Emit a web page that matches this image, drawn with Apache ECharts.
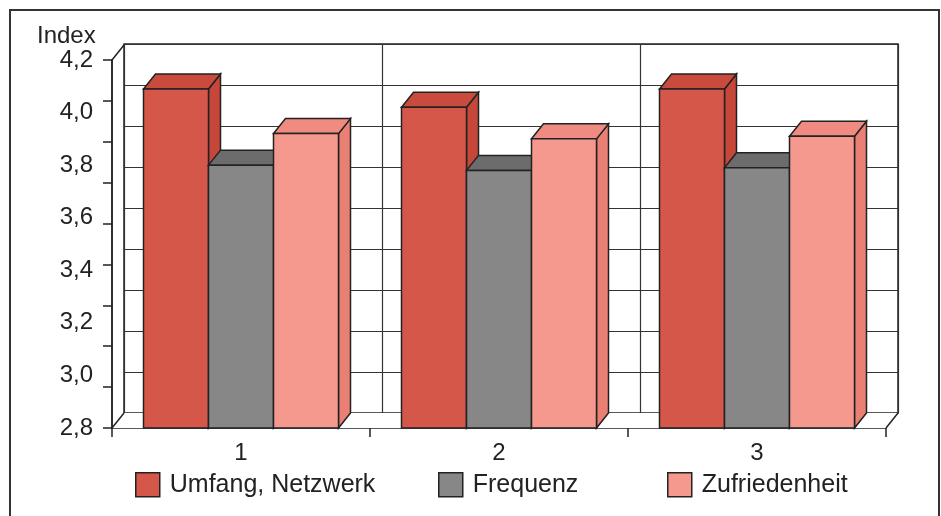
<!DOCTYPE html>
<html>
<head>
<meta charset="utf-8">
<script src="https://cdn.jsdelivr.net/npm/echarts@6/dist/echarts.min.js"></script>
<style>
  html, body { margin: 0; padding: 0; background: #fff; }
  #chart { width: 941px; height: 516px; }
</style>
</head>
<body>
<div id="chart"></div>
<script>
// categories and series values
var categories = ['1', '2', '3'];
var umfangNetzwerk = [4.09, 4.02, 4.09];
var frequenz = [3.80, 3.78, 3.79];
var zufriedenheit = [3.92, 3.90, 3.91];
var seriesNames = ['Umfang, Netzwerk', 'Frequenz', 'Zufriedenheit'];
var yMin = 2.8, yMax = 4.2, yStep = 0.2;

// colours: front / top / side
var palette = [
  { front: '#d5574a', top: '#c84b3d', side: '#c6473a' },
  { front: '#878787', top: '#6c6c6c', side: '#767676' },
  { front: '#f5988e', top: '#f08b81', side: '#ea7f74' }
];
var edge = '#222';
var depthX = 12, depthY = -15;   // 3d depth offset
var barW = 65;

var chart = echarts.init(document.getElementById('chart'));
var font = 'Liberation Sans, Arial, sans-serif';

// one 3d bar
function bar3d(si) {
  return function (params, api) {
    var idx = api.value(0);
    var top = api.coord([idx, api.value(1)]);
    var base = api.coord([idx, yMin]);
    var x0 = top[0] - barW * 1.5 + si * barW;
    var yt = top[1], yb = base[1];
    var c = palette[si];
    var st = { stroke: edge, lineWidth: 1.5 };
    return {
      type: 'group',
      children: [
        { type: 'polygon', shape: { points: [[x0 + barW, yt], [x0 + barW + depthX, yt + depthY], [x0 + barW + depthX, yb + depthY], [x0 + barW, yb]] },
          style: Object.assign({ fill: c.side }, st) },
        { type: 'polygon', shape: { points: [[x0, yt], [x0 + barW, yt], [x0 + barW + depthX, yt + depthY], [x0 + depthX, yt + depthY]] },
          style: Object.assign({ fill: c.top }, st) },
        { type: 'rect', shape: { x: x0, y: yt, width: barW, height: yb - yt },
          style: Object.assign({ fill: c.front }, st) }
      ]
    };
  };
}

// floor / side wall edges
function frame(params, api) {
  var cs = params.coordSys;
  var l = cs.x, r = cs.x + cs.width, t = cs.y, b = cs.y + cs.height;
  var st = { stroke: edge, lineWidth: 1.5 };
  return {
    type: 'group',
    children: [
      { type: 'polygon', shape: { points: [[l, b], [r, b], [r + depthX, b + depthY], [l + depthX, b + depthY]] }, style: { fill: '#fff' } },
      { type: 'line', shape: { x1: l, y1: t, x2: l + depthX, y2: t + depthY }, style: st },
      { type: 'line', shape: { x1: l, y1: b, x2: l + depthX, y2: b + depthY }, style: st },
      { type: 'line', shape: { x1: r, y1: b, x2: r + depthX, y2: b + depthY }, style: st }
    ]
  };
}

function toData(arr) {
  return arr.map(function (v, i) { return [i, v]; });
}

var values = [umfangNetzwerk, frequenz, zufriedenheit];
var series = [{
  type: 'custom',
  name: 'frame',
  xAxisIndex: 0,
  yAxisIndex: 0,
  renderItem: frame,
  data: [[0, yMin]],
  silent: true,
  z: 1
}];
values.forEach(function (arr, si) {
  series.push({
    type: 'custom',
    name: seriesNames[si],
    xAxisIndex: 0,
    yAxisIndex: 0,
    renderItem: bar3d(si),
    itemStyle: { color: palette[si].front },
    data: toData(arr),
    z: 3
  });
});

var legendLeft = [130, 433, 662];
var legends = seriesNames.map(function (n, i) {
  return {
    left: legendLeft[i],
    top: 467,
    itemWidth: 24,
    itemHeight: 24,
    icon: 'rect',
    selectedMode: false,
    data: [{ name: n, itemStyle: { color: palette[i].front, borderColor: edge, borderWidth: 1.5 } }],
    textStyle: { fontFamily: font, fontSize: 25, color: '#222', padding: [0, 0, 0, 5] }
  };
});

var option = {
  backgroundColor: '#fff',
  animation: false,
  title: {
    text: 'Index',
    left: 32,
    top: 19,
    textStyle: { fontFamily: font, fontSize: 24, fontWeight: 'normal', color: '#222' }
  },
  legend: legends,
  grid: [
    { left: 112, top: 60, width: 774, height: 368, containLabel: false },
    { left: 124, top: 44, width: 774, height: 369, show: true, borderColor: edge, borderWidth: 1.5, backgroundColor: '#fff', containLabel: false }
  ],
  xAxis: [
    {
      type: 'category', gridIndex: 0, data: categories, boundaryGap: true,
      axisLine: { show: true, lineStyle: { color: edge, width: 1.5 } },
      axisTick: { show: true, length: 9, lineStyle: { color: edge, width: 1.5 } },
      axisLabel: { fontFamily: font, fontSize: 24, color: '#222', margin: 13 },
      splitLine: { show: false }
    },
    {
      type: 'category', gridIndex: 1, data: categories, boundaryGap: true,
      axisLine: { show: false }, axisTick: { show: false }, axisLabel: { show: false },
      splitLine: { show: true, lineStyle: { color: '#333', width: 1.2 } }
    }
  ],
  yAxis: [
    {
      type: 'value', gridIndex: 0, position: 'left', min: yMin, max: yMax, interval: yStep,
      axisLine: { show: true, lineStyle: { color: edge, width: 1.5 } },
      axisTick: { show: false },
      axisLabel: {
        fontFamily: font, fontSize: 24, color: '#222', margin: 19,
        formatter: function (v) { return v.toFixed(1).replace('.', ','); }
      },
      splitLine: { show: false }
    },
    {
      // tick marks on the front axis
      type: 'value', gridIndex: 0, position: 'left', offset: 0, min: 0, max: 9, interval: 1,
      axisLine: { show: true, lineStyle: { color: edge, width: 1.5 } },
      axisTick: { show: true, length: 9, lineStyle: { color: edge, width: 1.5 } },
      axisLabel: { show: false },
      splitLine: { show: false }
    },
    {
      // back wall grid
      type: 'value', gridIndex: 1, min: 0, max: 9, interval: 1,
      axisLine: { show: false }, axisTick: { show: false }, axisLabel: { show: false },
      splitLine: { show: true, lineStyle: { color: '#333', width: 1.2 } }
    }
  ],
  graphic: [{
    type: 'rect',
    shape: { x: 10, y: 10, width: 929, height: 530 },
    style: { fill: 'none', stroke: '#333', lineWidth: 2 },
    silent: true,
    z: -10
  }],
  series: series
};

chart.setOption(option);
</script>
</body>
</html>
